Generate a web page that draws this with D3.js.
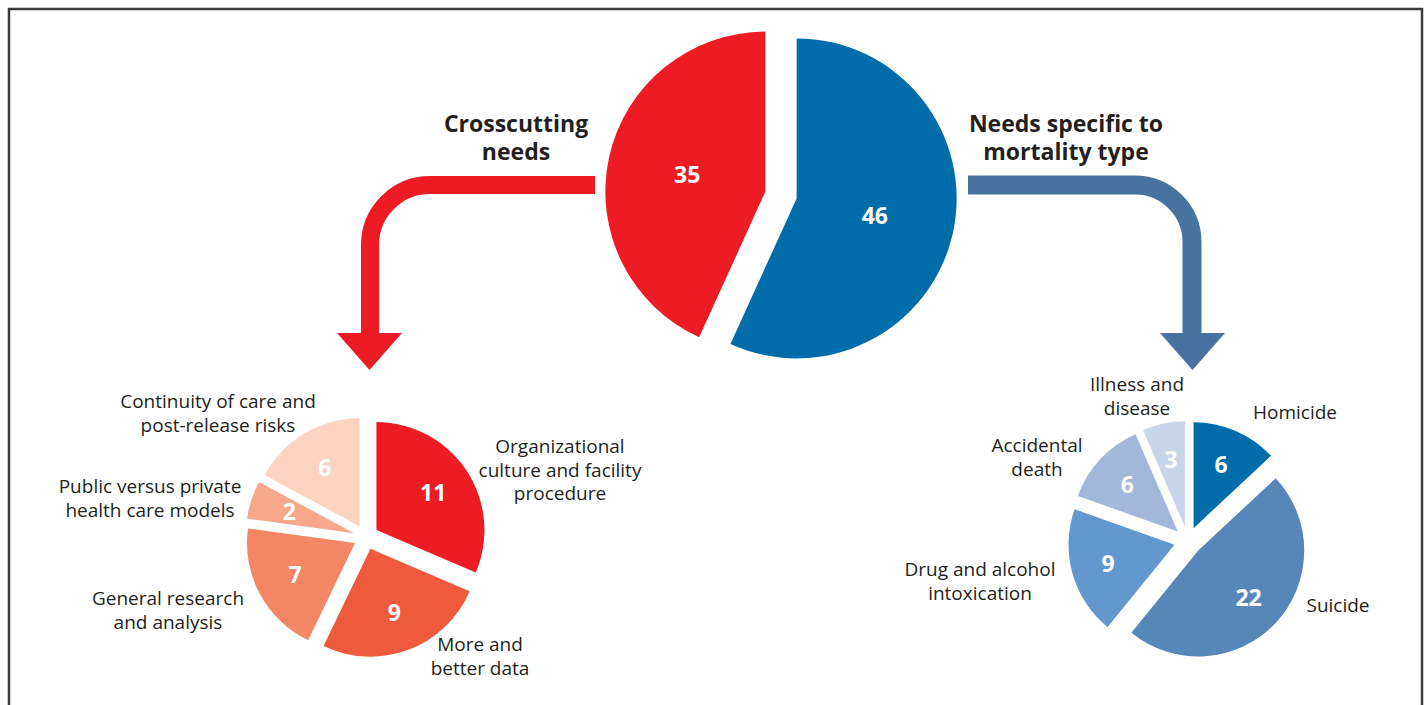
<!DOCTYPE html>
<html>
<head>
<meta charset="utf-8">
<script src="https://cdn.jsdelivr.net/npm/d3@7"></script>
<style>
  body { margin: 0; background: #fff; }
  svg { display: block; font-family: "Open Sans", "Noto Sans", sans-serif; }
</style>
</head>
<body>
<svg id="chart" width="1428" height="705"></svg>
<script>
// overall split
var mainCats = ["Needs specific to mortality type", "Crosscutting needs"];
var mainVals = [46, 35];

// crosscutting needs, clockwise from top
var crossCats = [
  "Organizational culture and facility procedure",
  "More and better data",
  "General research and analysis",
  "Public versus private health care models",
  "Continuity of care and post-release risks"
];
var crossVals = [11, 9, 7, 2, 6];

// needs specific to mortality type, clockwise from top
var specCats = ["Homicide", "Suicide", "Drug and alcohol intoxication", "Accidental death", "Illness and disease"];
var specVals = [6, 22, 9, 6, 3];

// label line breaks as drawn
var crossLines = [
  ["Organizational", "culture and facility", "procedure"],
  ["More and", "better data"],
  ["General research", "and analysis"],
  ["Public versus private", "health care models"],
  ["Continuity of care and", "post-release risks"]
];
var specLines = [["Homicide"], ["Suicide"], ["Drug and alcohol", "intoxication"], ["Accidental", "death"], ["Illness and", "disease"]];

var mainColors = ["#006ca9", "#ed1c24"];
var crossColors = ["#ed1c24", "#ef5a3d", "#f38664", "#f6a78c", "#fcd2c0"];
var specColors = ["#006ca9", "#5687b8", "#6298cd", "#a2b8da", "#c8d5ea"];

var textColor = "#231f20";

// label anchor positions (centre of first line)
var crossLabelPos = [[560, 453], [480, 651], [168, 605], [150, 493], [218, 408]];
var specLabelPos = [[1295, 419], [1338, 612], [980, 576], [1037, 452], [1137, 391]];

var svg = d3.select("#chart");

// frame
svg.append("rect")
  .attr("x", 9).attr("y", 9)
  .attr("width", 1413).attr("height", 720)
  .attr("fill", "none")
  .attr("stroke", "#3b3b3b")
  .attr("stroke-width", 2.5);

function drawPie(cx, cy, r, explode, vals, colors, labelFrac) {
  var pie = d3.pie().sort(null).value(function(d) { return d; });
  var arc = d3.arc().innerRadius(0).outerRadius(r);
  var labelArc = d3.arc().innerRadius(r * labelFrac).outerRadius(r * labelFrac);
  var g = svg.append("g").attr("transform", "translate(" + cx + "," + cy + ")");
  var slices = g.selectAll("g.slice")
    .data(pie(vals))
    .enter().append("g")
      .attr("class", "slice")
      .attr("transform", function(d) {
        var a = (d.startAngle + d.endAngle) / 2;
        return "translate(" + (explode * Math.sin(a)) + "," + (-explode * Math.cos(a)) + ")";
      });
  slices.append("path")
    .attr("d", arc)
    .attr("fill", function(d, i) { return colors[i]; });
  slices.append("text")
    .attr("transform", function(d) { return "translate(" + labelArc.centroid(d) + ")"; })
    .attr("text-anchor", "middle")
    .attr("dy", "0.36em")
    .attr("fill", "#fff")
    .style("font-size", "23px")
    .style("font-weight", 700)
    .text(function(d) { return d.data; });
  return g;
}

function drawLabels(lines, pos) {
  lines.forEach(function(ls, i) {
    var t = svg.append("text")
      .attr("x", pos[i][0]).attr("y", pos[i][1])
      .attr("text-anchor", "middle")
      .attr("fill", textColor)
      .style("font-size", "19px");
    ls.forEach(function(s, j) {
      t.append("tspan").attr("x", pos[i][0]).attr("dy", j == 0 ? 0 : 23.5).text(s);
    });
  });
}

// arrows
svg.append("path")
  .attr("d", "M595,185 H430 A60,60 0 0 0 370,245 V335")
  .attr("fill", "none").attr("stroke", "#ed1c24").attr("stroke-width", 18);
svg.append("path")
  .attr("d", "M337,333 L402,333 L369.5,370 Z")
  .attr("fill", "#ed1c24");
svg.append("path")
  .attr("d", "M968,185 H1135 A57,57 0 0 1 1192,242 V335")
  .attr("fill", "none").attr("stroke", "#48739f").attr("stroke-width", 19);
svg.append("path")
  .attr("d", "M1160,333 L1225,333 L1192.5,370 Z")
  .attr("fill", "#48739f");

// headings
var heads = [
  { x: 516, lines: ["Crosscutting", "needs"] },
  { x: 1066, lines: ["Needs specific to", "mortality type"] }
];
heads.forEach(function(h) {
  var t = svg.append("text")
    .attr("x", h.x).attr("y", 132)
    .attr("text-anchor", "middle")
    .attr("fill", textColor)
    .style("font-size", "23px")
    .style("font-weight", 700);
  h.lines.forEach(function(s, j) {
    t.append("tspan").attr("x", h.x).attr("dy", j == 0 ? 0 : 28).text(s);
  });
});

drawPie(781, 195, 160, 16, mainVals, mainColors, 0.5);
drawPie(366, 537, 108, 12.5, crossVals, crossColors, 0.63);
drawPie(1188, 541, 106, 14, specVals, specColors, 0.65);

drawLabels(crossLines, crossLabelPos);
drawLabels(specLines, specLabelPos);
</script>
</body>
</html>
